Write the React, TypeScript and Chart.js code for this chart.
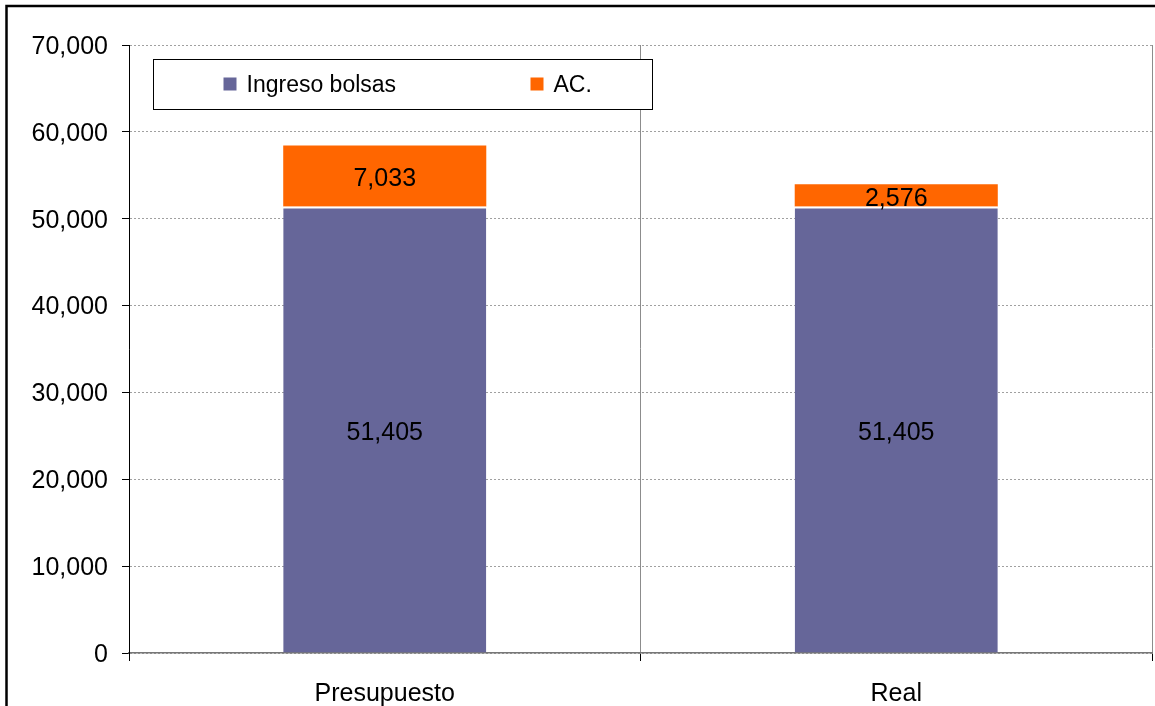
import React, { useEffect, useRef } from "react";
import { Chart, registerables } from "chart.js";

Chart.register(...registerables);

const categories = ["Presupuesto", "Real"];
const seriesNames = ["Ingreso bolsas", "AC."];
const ingresoBolsas = [51405, 51405];
const acValues = [7033, 2576];
const yMin = 0;
const yMax = 70000;
const yStep = 10000;

const FONT = "'Liberation Sans', Arial, Helvetica, sans-serif";
const fmt = (v: number) => v.toLocaleString("en-US");

const framePlugin = {
  id: "frame",
  afterDraw(chart: any) {
    const ctx = chart.ctx;
    ctx.save();
    ctx.strokeStyle = "#000";
    ctx.lineWidth = 2.5;
    ctx.strokeRect(6.5, 6, 3000, 3000);
    ctx.restore();
  },
};

const labelPlugin = {
  id: "segLabels",
  afterDatasetsDraw(chart: any) {
    const ctx = chart.ctx;
    ctx.save();
    ctx.font = `25px ${FONT}`;
    ctx.fillStyle = "#000";
    ctx.textAlign = "center";
    ctx.textBaseline = "middle";
    chart.data.datasets.forEach((ds: any, di: number) => {
      const meta = chart.getDatasetMeta(di);
      meta.data.forEach((el: any, i: number) => {
        const v = ds.data[i];
        const cy = (el.y + el.base) / 2;
        ctx.fillText(fmt(v), el.x, cy + 3.5);
      });
    });
    ctx.restore();
  },
};

const legendPlugin = {
  id: "boxLegend",
  afterDraw(chart: any) {
    const ctx = chart.ctx;
    const a = chart.chartArea;
    const x0 = a.left + 24.5;
    const y0 = a.top + 14.5;
    const w = 499;
    const h = 50;
    ctx.save();
    ctx.fillStyle = "#fff";
    ctx.fillRect(x0, y0, w, h);
    ctx.strokeStyle = "#000";
    ctx.lineWidth = 1;
    ctx.strokeRect(x0, y0, w, h);
    const cy = y0 + h / 2;
    const itemX = [x0 + 70, x0 + 377];
    ctx.font = `23px ${FONT}`;
    ctx.textBaseline = "middle";
    ctx.textAlign = "left";
    chart.data.datasets.forEach((ds: any, i: number) => {
      ctx.fillStyle = ds.backgroundColor;
      ctx.fillRect(itemX[i], cy - 7, 13, 13);
      ctx.fillStyle = "#000";
      ctx.fillText(ds.label, itemX[i] + 23, cy + 1);
    });
    ctx.restore();
  },
};

export default function App() {
  const ref = useRef<HTMLCanvasElement | null>(null);

  useEffect(() => {
    if (!ref.current) return;
    Chart.defaults.font.family = FONT;
    const chart = new Chart(ref.current, {
      type: "bar",
      data: {
        labels: categories,
        datasets: [
          {
            label: seriesNames[0],
            data: ingresoBolsas,
            backgroundColor: "#666699",
            borderColor: "#ffffff",
            borderWidth: { top: 2, left: 0, right: 0, bottom: 0 },
            borderSkipped: false,
            barPercentage: 0.397,
            categoryPercentage: 1,
          },
          {
            label: seriesNames[1],
            data: acValues,
            backgroundColor: "#FF6600",
            borderWidth: 0,
            barPercentage: 0.397,
            categoryPercentage: 1,
          },
        ],
      },
      options: {
        responsive: false,
        animation: false,
        events: [],
        layout: { padding: { left: 0, right: 3, top: 45, bottom: 0 } },
        plugins: {
          legend: { display: false },
          tooltip: { enabled: false },
          title: { display: false },
        },
        scales: {
          x: {
            stacked: true,
            offset: true,
            afterFit: (s: any) => {
              s.height = 53;
            },
            grid: {
              display: true,
              offset: true,
              color: "#8c8c8c",
              lineWidth: 1,
              tickLength: 8,
              tickColor: "#000",
            },
            border: { display: true, color: "#777777", width: 1.5 },
            ticks: {
              color: "#000",
              font: { size: 25, family: FONT },
              padding: 18,
              maxRotation: 0,
            },
          },
          y: {
            stacked: true,
            min: yMin,
            max: yMax,
            afterFit: (s: any) => {
              s.width = 129;
            },
            grid: {
              color: "#a0a0a0",
              lineWidth: 1,
              tickLength: 7,
              tickColor: "#000",
            },
            border: { display: true, color: "#000", width: 1, dash: [2, 2] },
            ticks: {
              stepSize: yStep,
              color: "#000",
              font: { size: 25, family: FONT },
              padding: 14,
              labelOffset: 2,
              callback: (v: any) => fmt(Number(v)),
            },
          },
        },
      },
      plugins: [labelPlugin, legendPlugin, framePlugin],
    });
    return () => chart.destroy();
  }, []);

  return (
    <div style={{ position: "fixed", left: 0, top: 0, width: 1155, height: 706, background: "#fff" }}>
      <canvas ref={ref} width={1155} height={706} style={{ width: 1155, height: 706 }} />
    </div>
  );
}
